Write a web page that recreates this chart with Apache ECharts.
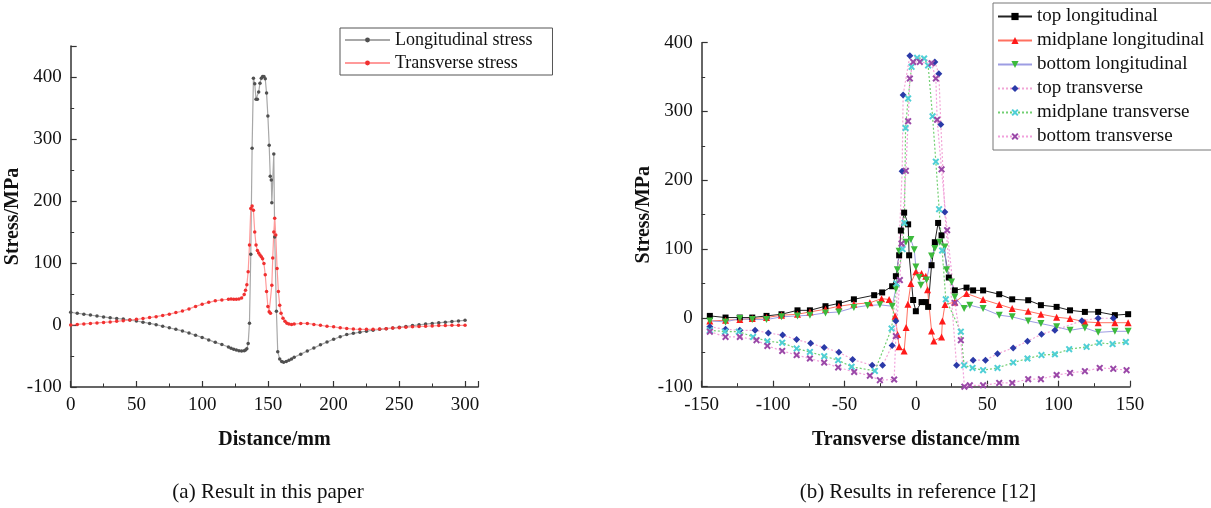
<!DOCTYPE html>
<html><head><meta charset="utf-8">
<script src="https://cdn.jsdelivr.net/npm/echarts@6/dist/echarts.min.js"></script>
<style>html,body{margin:0;padding:0;background:#fff}#c{width:1211px;height:508px}</style>
</head><body><div id="c"></div>
<script>
// ---------- (a) Result in this paper ----------
const leftLong = [[0,20.5],[5,19],[10,17.5],[15,16],[20,14.5],[25,13],[30,11.5],[35,10.5],[40,9.5],[45,8],[50,6.5],[55,4.5],[60,2.5],[65,0.5],[70,-2],[75,-4.5],[80,-7],[85,-9.5],[90,-13],[95,-16.5],[100,-20],[105,-24],[110,-28],[115,-31.5],[120,-35.5],[122,-37.5],[124,-39],[126,-40.5],[128,-41.5],[130,-42],[132,-41.5],[133,-40.5],[134,-38.5],[135,-30],[136,3],[137,114],[138,285],[139,398],[140,389],[141,364],[142,364],[143,376],[144,390],[145,398],[146,401],[147,401],[148,397],[149,374],[150,337],[151,290],[151.8,240],[152.6,234],[153,197],[154.5,276],[155.2,142],[156.5,22],[157.5,-43],[159,-55],[160.5,-59],[162,-60],[164,-59],[166,-57],[168,-55],[170,-52],[175,-47],[180,-42],[185,-37],[190,-32],[195,-27.5],[200,-23],[205,-19],[210,-15.5],[215,-13.5],[220,-11.5],[225,-10],[230,-8.5],[235,-7],[240,-6],[245,-5],[250,-3.5],[255,-2.5],[260,-1],[265,0.3],[270,1.5],[275,2.5],[280,3.5],[285,4.5],[290,5.5],[295,6.5],[300,7.5]];
const leftTrans = [[0,0],[5,1],[10,1.8],[15,2.6],[20,3.4],[25,4.2],[30,5],[35,6],[40,7],[45,8],[50,9.2],[55,10.5],[60,12],[65,13.5],[70,15.5],[75,17.5],[80,20],[85,22.5],[90,26],[95,30],[100,33.5],[105,36.5],[110,39],[115,40.5],[120,41.5],[122,42],[124,41.5],[126,41.5],[128,42],[130,43.5],[132,49],[133,56],[134,65],[135,86],[136,129],[137,188],[138,192],[139,185],[140,150],[141,129],[142,120],[143,116],[144,113],[145,110],[146,107],[147,99],[148,81],[149,54],[150,30],[151,21.5],[152,19],[153,64],[153.7,108],[154.5,150],[155.2,172],[156,145],[157,91],[158,54],[159,32],[160,19],[161.5,11],[163,6],[164.5,3],[166,1.5],[168,1],[170,1.5],[175,2.5],[180,2.5],[185,1],[190,-0.5],[195,-2],[200,-3],[205,-4.5],[210,-5.5],[215,-6.5],[220,-7],[225,-7],[230,-7],[235,-6.5],[240,-6],[245,-5],[250,-4.3],[255,-3.5],[260,-3],[265,-2.5],[270,-2],[275,-1.5],[280,-1],[285,-1],[290,-0.5],[295,-0.5],[300,-0.5]];

// ---------- (b) Results in reference [12] ----------
const topLong = [[-144.3,2.9],[-133.3,0.5],[-123.3,0.5],[-114.6,0.5],[-104.6,2.9],[-94.1,5.3],[-82.9,11],[-74.2,11],[-63.3,17],[-53.9,21],[-43.4,27],[-29.2,33],[-23.6,37],[-16.6,46],[-14,60.6],[-11.7,91],[-10.5,127],[-8.2,153],[-5.4,136],[-4.7,91],[-1.9,26],[0,9.7],[4,23],[7,23],[8.6,16],[11,76.6],[13.3,110],[15.6,138],[18,120],[23.1,58.7],[27.3,40],[35.5,44],[40.1,40],[47.1,40],[58.4,34.4],[67.5,27],[78.7,25.7],[87.6,18.5],[98.6,16],[108,11],[118.4,8.7],[127.7,8.7],[139.4,4],[148.7,5.4]];
const midLong = [[-144.3,-4.4],[-133.3,-3.4],[-123.3,-2.4],[-114.6,-1],[-104.6,0.5],[-94.1,3.9],[-82.9,5.3],[-74.2,8.7],[-63.3,12.6],[-53.9,17],[-43.4,20],[-32.2,22],[-24,28],[-18.7,26.7],[-14.5,2.5],[-12.8,-24],[-11.7,-42],[-8.2,-48],[-6.8,-14],[-5.6,20],[-3.5,50],[0,67],[4,64.5],[7,60.6],[8.2,41],[11,-19],[12.6,-33.4],[18,-27.6],[18.6,-4.4],[20.4,19.5],[27.3,23],[35.5,35.5],[47.1,26.7],[58.4,19.5],[67.5,13.6],[78.7,9.7],[87.6,5.4],[98.6,1],[108,-1],[118.4,-5.8],[127.7,-7],[139.4,-7],[148.7,-7]];
const botLong = [[-144.3,-4.4],[-133.3,-5.8],[-123.3,-1],[-114.6,-2.4],[-104.6,-2.4],[-94.1,1.5],[-82.9,2.9],[-74.2,3.9],[-63.3,7.3],[-53.9,8.7],[-43.4,15],[-33.8,18],[-25.2,19],[-16.6,17],[-14,42],[-13,70],[-11.7,97],[-7,110],[-3.5,114],[-1.1,99],[0,74],[2.3,58.7],[3.5,47.5],[7.5,55],[11,90],[13.3,101],[16.8,110],[20.3,103],[21.5,70],[25,52],[27.3,30.5],[33.8,13.6],[37.8,18.5],[47.1,13.6],[58.4,4],[67.5,1.5],[78.7,-4.4],[87.6,-8.2],[98.6,-13],[108,-18],[118.4,-14.5],[127.7,-21],[139.4,-19.5],[148.7,-19.5]];
const topTrans = [[-144.3,-13],[-133.3,-16.5],[-123.3,-18],[-112.6,-18],[-103.3,-22],[-93.3,-25],[-83.5,-31.5],[-73.7,-37],[-64.2,-43],[-53.9,-50],[-44.3,-60.5],[-30.6,-69],[-23.3,-69],[-16.6,-40],[-14,-4.4],[-9.6,213],[-8.9,324],[-4.2,381],[13.3,372],[16.1,355],[17.5,281],[20.3,154],[28.5,-69],[40.1,-61.5],[48.8,-61.5],[57.2,-52],[68.2,-43.6],[78.2,-34],[88,-23.7],[97.4,-18],[116.3,-4],[127.7,-0.5],[138.3,-0.5]];
const midTrans = [[-144.3,-18],[-133.7,-20],[-124,-20],[-114,-27.6],[-104,-34],[-93.6,-36],[-83.5,-44.6],[-74.2,-49.4],[-64.2,-55.7],[-54.4,-61.5],[-45,-71],[-28.7,-77],[-17,-15.5],[-13.5,50],[-9.3,100],[-8,138],[-7.2,276],[-5.4,319],[-3,365],[0.9,378],[5.8,377],[8.6,367],[11.7,293],[14,227],[16.3,158],[18.4,98],[21,27],[31.5,-20],[33.8,-69],[39.7,-72.7],[47.1,-76],[57.2,-72.7],[68.2,-65],[78.2,-59],[88,-54],[97.4,-52.8],[107.4,-45.5],[119.6,-42],[128.4,-36.3],[137.8,-38],[147.1,-35]];
const botTrans = [[-144.3,-20],[-133.3,-27.6],[-123.3,-27.6],[-111.6,-32.4],[-104,-40.7],[-93.6,-48],[-83.5,-54],[-74.2,-59],[-64.2,-65],[-54.4,-72],[-43.2,-78.5],[-32.2,-84],[-25.2,-90.5],[-15.2,-89.5],[-14,-26.6],[-11.2,55],[-10,108],[-7,213.7],[-5.4,286],[-4.2,348],[-1.9,372],[2.8,372],[11,370],[14,348],[14.9,288],[18,216],[21.9,127.5],[27.3,21.8],[31.5,-32.4],[34,-100],[37.8,-98],[47.1,-98],[58.4,-94.5],[67.5,-94.5],[78.7,-89],[87.6,-89],[98.6,-83],[108,-80],[118.4,-77.5],[128.8,-72.7],[138.3,-74],[147.6,-76]];

const captions = ['(a) Result in this paper', '(b) Results in reference [12]'];

const F = 'Liberation Serif';
const XMARK = 'path://M0,2L2,0L5,3L8,0L10,2L7,5L10,8L8,10L5,7L2,10L0,8L3,5Z';

function axis(grid, min, max, interval, name, gap, labelStep){
  return {
    gridIndex: grid, type: 'value', min: min, max: max, interval: interval,
    name: name, nameLocation: 'middle', nameGap: gap,
    nameTextStyle: {fontFamily: F, fontSize: 20, fontWeight: 'bold', color: '#111'},
    axisLine: {onZero: false, lineStyle: {color: '#333', width: 1.5}},
    axisTick: {inside: true, length: 6, lineStyle: {color: '#333', width: 1.2}},
    minorTick: {show: true, splitNumber: 2, length: 3.5, lineStyle: {color: '#333', width: 1}},
    splitLine: {show: false}, minorSplitLine: {show: false},
    axisLabel: {fontFamily: F, fontSize: 19, color: '#111', margin: 9,
      formatter: v => (Math.abs(v % labelStep) < 1e-9 ? String(v) : '')}
  };
}

const chart = echarts.init(document.getElementById('c'));
chart.setOption({
  animation: false,
  backgroundColor: '#fff',
  textStyle: {fontFamily: F},
  grid: [
    {left: 70.7, top: 46, width: 407.5, height: 341},
    {left: 701.7, top: 42.7, width: 428.3, height: 344}
  ],
  xAxis: [
    axis(0, 0, 310, 50, 'Distance/mm', 43, 50),
    axis(1, -150, 150, 50, 'Transverse distance/mm', 43, 50)
  ],
  yAxis: [
    axis(0, -100, 450, 100, 'Stress/MPa', 39, 100),
    axis(1, -100, 400, 100, 'Stress/MPa', 46, 100)
  ],
  legend: [
    {orient: 'vertical', left: 340, top: 28, data: ['Longitudinal stress', 'Transverse stress'],
     borderColor: '#555', borderWidth: 1, padding: [3, 20, 3, 4], itemWidth: 45, itemHeight: 6, itemGap: 5,
     textStyle: {fontFamily: F, fontSize: 18, color: '#111'}},
    {orient: 'vertical', left: 993, top: 3,
     data: ['top longitudinal', 'midplane longitudinal', 'bottom longitudinal', 'top transverse', 'midplane transverse', 'bottom transverse'],
     borderColor: '#777', borderWidth: 1, padding: [4, 20, 4, 4], itemWidth: 34, itemHeight: 9, itemGap: 5,
     textStyle: {fontFamily: F, fontSize: 19, color: '#111'}}
  ],
  graphic: [
    {type: 'text', style: {text: captions[0], x: 268, y: 492, textAlign: 'center', textVerticalAlign: 'middle', font: '21px "Liberation Serif"', fill: '#111'}},
    {type: 'text', style: {text: captions[1], x: 918, y: 492, textAlign: 'center', textVerticalAlign: 'middle', font: '21px "Liberation Serif"', fill: '#111'}}
  ],
  series: [
    {name: 'Longitudinal stress', type: 'line', xAxisIndex: 0, yAxisIndex: 0, data: leftLong,
     symbol: 'circle', symbolSize: 3.5, lineStyle: {color: '#a8a8a8', width: 1.2}, itemStyle: {color: '#505050'}},
    {name: 'Transverse stress', type: 'line', xAxisIndex: 0, yAxisIndex: 0, data: leftTrans,
     symbol: 'circle', symbolSize: 3.5, lineStyle: {color: '#ff9a9a', width: 1.2}, itemStyle: {color: '#f03030'}},
    {name: 'top longitudinal', type: 'line', xAxisIndex: 1, yAxisIndex: 1, data: topLong,
     symbol: 'rect', symbolSize: 6, lineStyle: {color: '#222', width: 1}, itemStyle: {color: '#000'}},
    {name: 'midplane longitudinal', type: 'line', xAxisIndex: 1, yAxisIndex: 1, data: midLong,
     symbol: 'triangle', symbolSize: 7, lineStyle: {color: '#ff7060', width: 1}, itemStyle: {color: '#ff1a1a'}},
    {name: 'bottom longitudinal', type: 'line', xAxisIndex: 1, yAxisIndex: 1, data: botLong,
     symbol: 'triangle', symbolRotate: 180, symbolSize: 7, lineStyle: {color: '#9d9de3', width: 1}, itemStyle: {color: '#3cba3c'}},
    {name: 'top transverse', type: 'line', xAxisIndex: 1, yAxisIndex: 1, data: topTrans,
     symbol: 'diamond', symbolSize: 7, lineStyle: {color: '#f2a6d6', width: 1.2, type: [2, 2]}, itemStyle: {color: '#2b3aa8'}},
    {name: 'midplane transverse', type: 'line', xAxisIndex: 1, yAxisIndex: 1, data: midTrans,
     symbol: XMARK, symbolSize: 7, lineStyle: {color: '#72cf72', width: 1.2, type: [2, 2]}, itemStyle: {color: '#4fcfd6'}},
    {name: 'bottom transverse', type: 'line', xAxisIndex: 1, yAxisIndex: 1, data: botTrans,
     symbol: XMARK, symbolSize: 7, lineStyle: {color: '#f2a0dc', width: 1.2, type: [2, 2]}, itemStyle: {color: '#9a48a8'}}
  ]
});
</script>
</body></html>
